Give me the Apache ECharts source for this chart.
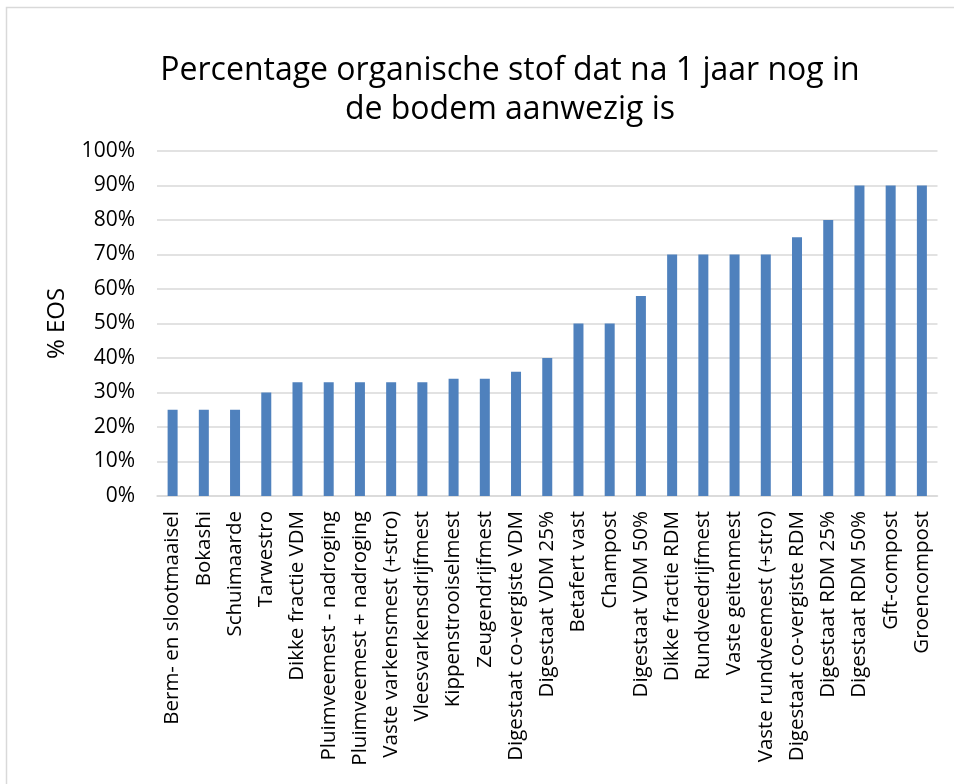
<!DOCTYPE html>
<html>
<head>
<meta charset="utf-8">
<script src="https://cdn.jsdelivr.net/npm/echarts@6/dist/echarts.min.js"></script>
<style>
html,body{margin:0;padding:0;background:#fff;}
#chart{width:954px;height:784px;}
</style>
</head>
<body>
<div id="chart"></div>
<script>
const titleText = 'Percentage organische stof dat na 1 jaar nog in\nde bodem aanwezig is';
const yAxisName = '% EOS';
const categories = [
  'Berm- en slootmaaisel', 'Bokashi', 'Schuimaarde', 'Tarwestro', 'Dikke fractie VDM',
  'Pluimveemest - nadroging', 'Pluimveemest + nadroging', 'Vaste varkensmest (+stro)',
  'Vleesvarkensdrijfmest', 'Kippenstrooiselmest', 'Zeugendrijfmest', 'Digestaat co-vergiste VDM',
  'Digestaat VDM 25%', 'Betafert vast', 'Champost', 'Digestaat VDM 50%', 'Dikke fractie RDM',
  'Rundveedrijfmest', 'Vaste geitenmest', 'Vaste rundveemest (+stro)', 'Digestaat co-vergiste RDM',
  'Digestaat RDM 25%', 'Digestaat RDM 50%', 'Gft-compost', 'Groencompost'
];
const eosValues = [25, 25, 25, 30, 33, 33, 33, 33, 33, 34, 34, 36, 40, 50, 50, 58, 70, 70, 70, 70, 75, 80, 90, 90, 90];
const yMin = 0, yMax = 100, yStep = 10;

const chart = echarts.init(document.getElementById('chart'), null, {renderer: 'canvas'});
const font = 'Open Sans';
chart.setOption({
  backgroundColor: '#fff',
  animation: false,
  graphic: [{
    type: 'rect',
    shape: {x: 6.5, y: 7.5, width: 1000, height: 1000},
    style: {fill: 'none', stroke: '#d9d9d9', lineWidth: 1.5},
    silent: true
  }],
  title: {
    text: titleText,
    left: 505,
    textAlign: 'center',
    top: 46,
    textStyle: {fontFamily: font, fontSize: 32, fontWeight: 'normal', color: '#000', lineHeight: 39}
  },
  grid: {left: 157, right: 16.5, top: 151, bottom: 288, containLabel: false},
  xAxis: {
    type: 'category',
    data: categories,
    axisLine: {lineStyle: {color: '#d9d9d9', width: 1.5}},
    axisTick: {show: false},
    axisLabel: {
      interval: 0, rotate: 90, margin: 15,
      fontFamily: font, fontSize: 20.5, color: '#000'
    }
  },
  yAxis: {
    type: 'value',
    min: yMin, max: yMax, interval: yStep,
    name: yAxisName,
    nameLocation: 'middle',
    nameGap: 88,
    nameRotate: 90,
    nameTextStyle: {fontFamily: font, fontSize: 24, color: '#000'},
    axisLine: {show: false},
    axisTick: {show: false},
    splitLine: {lineStyle: {color: '#d9d9d9', width: 1.5}},
    axisLabel: {
      margin: 22,
      fontFamily: font, fontSize: 21, color: '#000',
      formatter: v => v + '%'
    }
  },
  series: [{
    type: 'bar',
    data: eosValues,
    barWidth: 10,
    itemStyle: {color: '#4f81bd'}
  }]
});
</script>
</body>
</html>
